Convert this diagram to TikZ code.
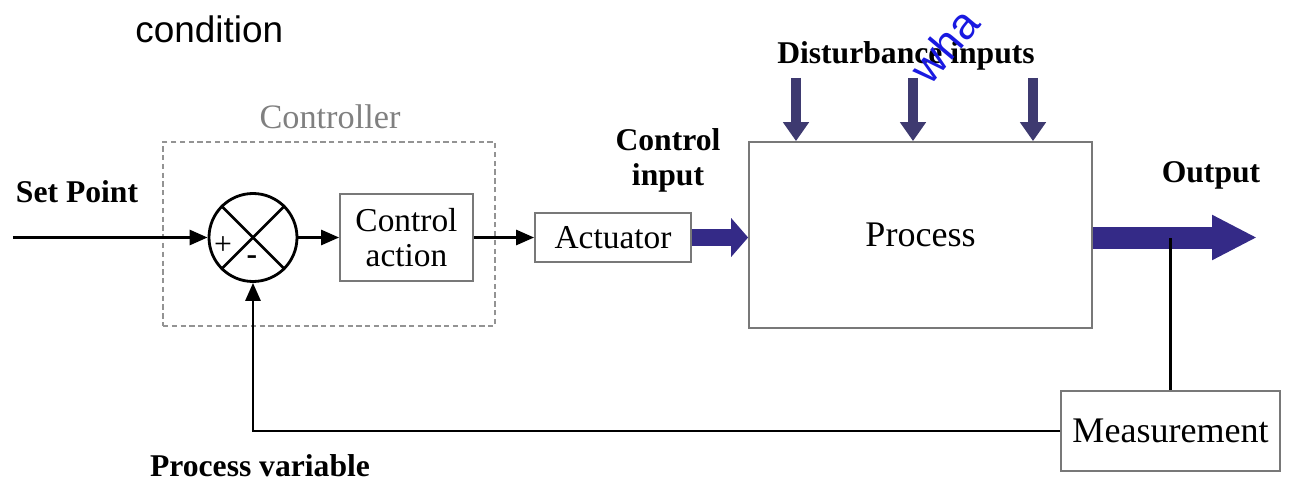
\documentclass[tikz,border=0pt]{standalone}
\usepackage{fontspec}
\setmainfont{Liberation Serif}
\newfontfamily\sansfont{Liberation Sans}
\usetikzlibrary{arrows.meta}
\definecolor{flowblue}{RGB}{52,42,135}
\definecolor{distblue}{RGB}{62,58,112}
\definecolor{boxgray}{RGB}{120,120,120}
\definecolor{markblue}{RGB}{25,25,225}

\begin{document}
\begin{tikzpicture}[
  blockbox/.style={draw=boxgray, line width=1pt, fill=white, align=center, inner sep=0pt, font=\fontsize{19}{20}\selectfont},
  lbl/.style={font=\bfseries\fontsize{18}{20}\selectfont, align=center},
  sig/.style={line width=1.6pt, -{Triangle[length=0.36cm,width=0.3cm]}},
  fat/.style={flowblue, -{Triangle[length=0.34cm,width=0.76cm]}}
]
\useasboundingbox (0,0) rectangle (25.84,9.72);

% Page text above the figure
\node[font=\sansfont\fontsize{21}{24}\selectfont, anchor=base west, inner sep=0pt] (cond) at (2.7,8.86) {condition};

% Controller group
\node[draw=boxgray!80, densely dashed, line width=1pt, minimum width=6.64cm, minimum height=3.68cm] (ctrlr) at (6.58,5.04) {};
\node[font=\fontsize{19.5}{20}\selectfont, text=black!50] (ctrltxt) at (6.6,7.38) {Controller};

\node[circle, draw, line width=1.6pt, minimum size=1.76cm, inner sep=0pt] (sum) at (5.06,4.97) {};
\draw[line width=1.6pt] (sum.north west) -- (sum.south east);
\draw[line width=1.6pt] (sum.north east) -- (sum.south west);
\node[font=\fontsize{18}{18}\selectfont] (plus) at (4.46,4.80) {+};
\node[font=\bfseries\fontsize{18}{18}\selectfont] (minus) at (5.04,4.52) {-};

\node[blockbox, minimum width=2.66cm, minimum height=1.74cm] (ctrl) at (8.13,4.97) {Control\\action};

% Plant side
\node[blockbox, minimum width=3.12cm, minimum height=0.98cm] (actu) at (12.26,4.97) {Actuator};
\node[blockbox, minimum width=6.86cm, minimum height=3.72cm, font=\fontsize{20.5}{22}\selectfont] (proc) at (18.41,5.02) {Process};
\node[blockbox, minimum width=4.38cm, minimum height=1.6cm, font=\fontsize{20.5}{22}\selectfont] (meas) at (23.41,1.1) {Measurement};

% Labels
\node[lbl] (setpt) at (1.54,5.88) {Set Point};
\node[lbl] (cinput) at (13.36,6.51) {Control\\input};
\node[lbl] (dist) at (18.12,8.6) {Disturbance inputs};
\node[lbl] (outlbl) at (24.22,6.22) {Output};
\node[lbl] (pvar) at (5.2,0.4) {Process variable};
\node[font=\sansfont\fontsize{25}{28}\selectfont, text=markblue, rotate=50, inner sep=0pt] (mark) at (18.88,8.8) {wha};

% Signal flow
\coordinate (spin) at (0.26,4.97);
\coordinate (out) at (25.14,4.97);
\draw[sig] (spin) -- (sum.west);
\draw[sig] (sum.east) -- (ctrl.west);
\draw[sig] (ctrl.east) -- (actu.west);
\draw[fat, line width=0.34cm] (actu.east) -- (actu.east -| proc.west);
\draw[fat, line width=0.44cm, -{Triangle[length=0.9cm,width=0.84cm]}] (proc.east |- out) -- (out);

% Disturbances
\foreach \x [count=\i] in {15.92,18.26,20.66} {
    \coordinate (d\i) at (\x,8.16);
    \draw[distblue, line width=0.2cm, -{Triangle[length=0.38cm,width=0.5cm]}] (d\i) -- (d\i |- proc.north);
}

% Feedback path
\coordinate (pv) at (sum.south |- meas.west);
\draw[line width=1.6pt] (meas.north) -- (meas.north |- out);
\draw[sig] (meas.west) -- (pv) -- (sum.south);
\end{tikzpicture}
\end{document}
